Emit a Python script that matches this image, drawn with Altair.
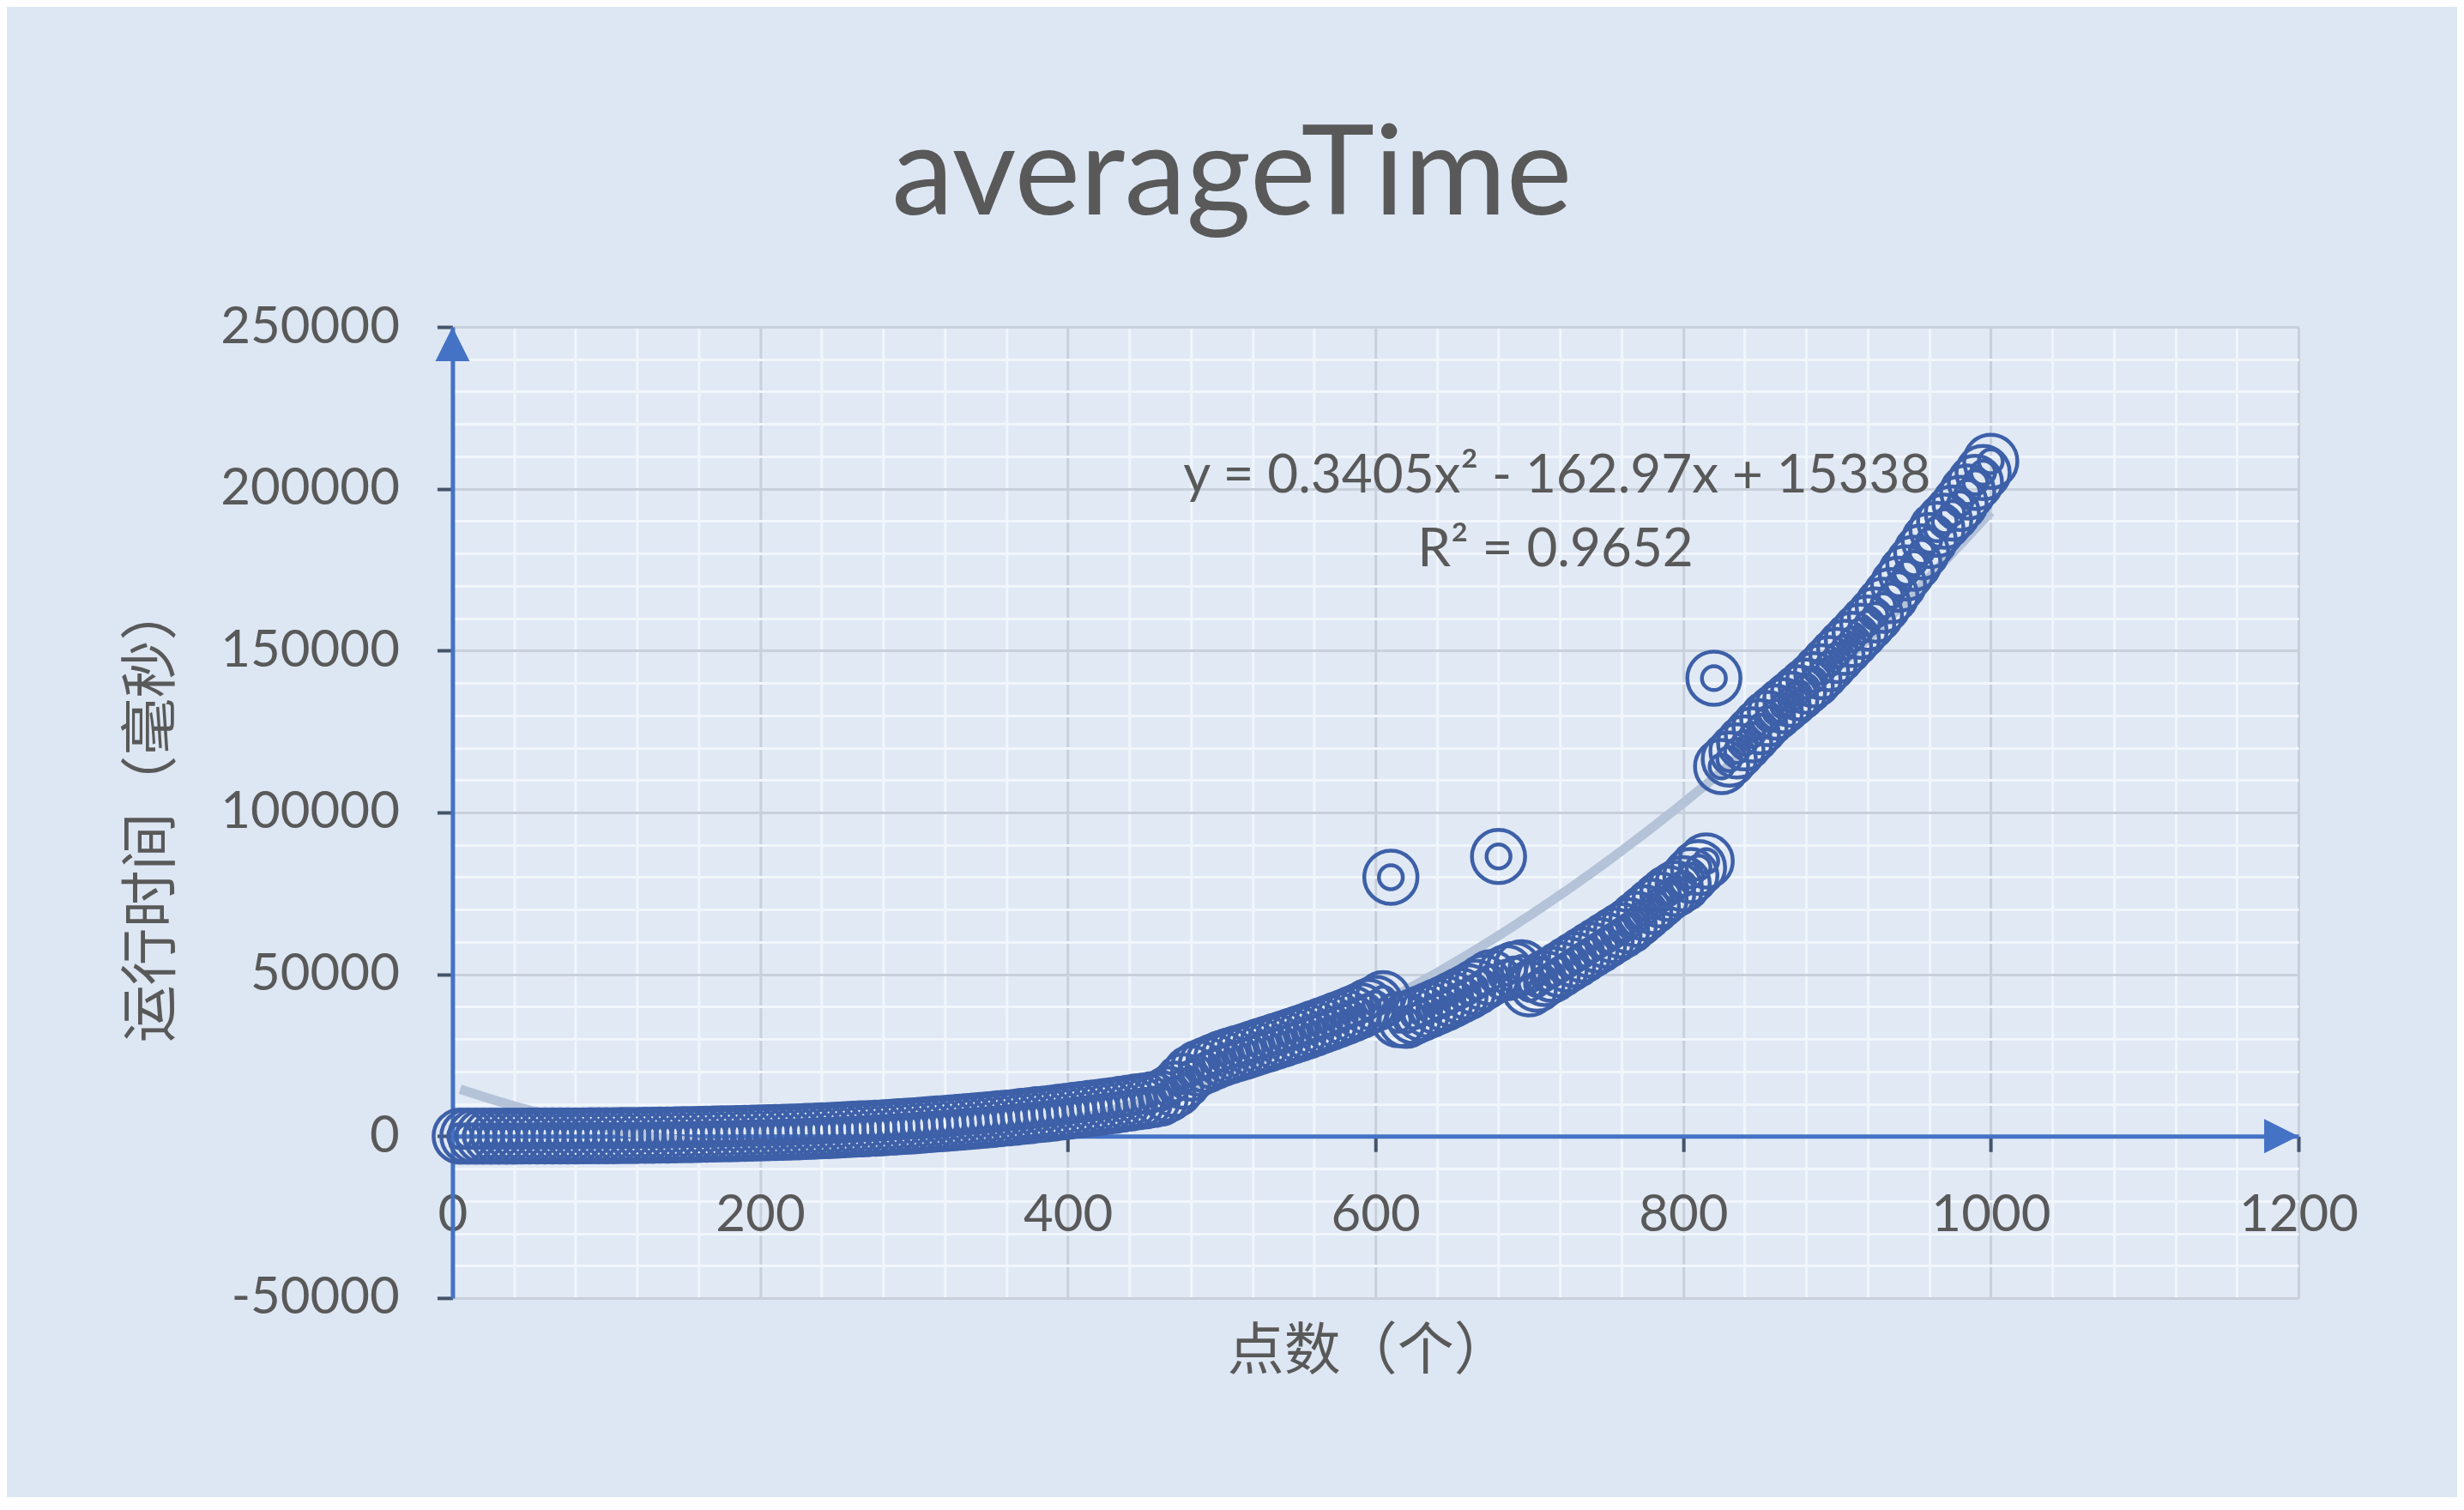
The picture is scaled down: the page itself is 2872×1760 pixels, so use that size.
import altair as alt
import pandas as pd

# ---------------- data ----------------
TITLE = "averageTime"
X_TITLE = "点数（个）"
Y_TITLE = "运行时间（毫秒）"

X_DOMAIN = [0, 1200]
Y_DOMAIN = [-50000, 250000]

# number of points (x) and average running time in ms (y)
N_VALUES = list(range(5, 1001, 5))
TIME_VALUES = [
    # 5 .. 100
    5, 8, 10, 12, 15, 20, 25, 30, 35, 40, 50, 55, 60, 70, 80, 90, 100, 110, 120, 140,
    # 105 .. 200
    160, 180, 200, 230, 260, 290, 320, 360, 400, 440, 490, 540, 590, 640, 700, 760, 820, 890, 950, 1000,
    # 205 .. 300
    1050, 1100, 1180, 1260, 1350, 1450, 1550, 1650, 1750, 1850, 1980, 2100, 2230, 2350, 2480, 2600, 2750, 2900, 3050, 3200,
    # 305 .. 400
    3400, 3550, 3750, 3900, 4100, 4300, 4500, 4700, 4900, 5100, 5350, 5600, 5800, 6100, 6300, 6600, 6800, 7100, 7400, 7700,
    # 405 .. 460
    8000, 8300, 8600, 8900, 9200, 9500, 9900, 10200, 10600, 10900, 11300, 11700,
    # 465 .. 605
    13000, 14500, 17000, 19500, 21000, 22000, 23000, 24000, 24800, 25500, 26200, 27000, 27800, 28500, 29300,
    30000, 30800, 31600, 32400, 33300, 34100, 35000, 35900, 36800, 37800, 38800, 40000, 41000, 42500,
    # 610 (outlier)
    80000,
    # 615 .. 675
    36000, 35800, 37000, 38000, 39000, 40000, 41000, 42200, 43400, 44600, 46000, 47500, 49000,
    # 680 (outlier)
    86400,
    # 685 .. 695
    50500, 51500, 52000,
    # 700 .. 815
    45500, 47000, 48700, 50000, 51500, 53000, 54500, 56000, 57500, 59000, 60500, 62000,
    63500, 65000, 67000, 69000, 71000, 73000, 75000, 76500, 78000, 80500, 83000, 85000,
    # 820 (outlier)
    141500,
    # 825 .. 1000
    114200, 116500, 119000, 121500, 124000, 126500, 129000, 131000, 133000, 135000, 137000, 139000,
    141000, 143500, 146000, 148500, 151000, 153500, 156000, 158500, 161000, 164000, 167000, 170500,
    174000, 177000, 180500, 184000, 187500, 190000, 192500, 195500, 199000, 202000, 205000, 208500,
]

# polynomial trendline shown on the chart: c0 + c1*x + c2*x^2
TREND_COEF = [15338, -162.97, 0.3405]
EQ_TEXT = "y = 0.3405x² - 162.97x + 15338"
R2_TEXT = "R² = 0.9652"

# ---------------- layout / style ----------------
W, H = 2152, 1132
BG = "#dde7f3"
TEXT_C = "#595959"
AXIS_BLUE = "#4472c4"
MARK_BLUE = "#3d60a8"
NUM_FONT = "Lato"
CJK_FONT = "Noto Sans CJK SC"

df = pd.DataFrame({"n": N_VALUES, "t": TIME_VALUES})

x_scale = alt.Scale(domain=X_DOMAIN, nice=False, zero=False)
y_scale = alt.Scale(domain=Y_DOMAIN, nice=False, zero=False)

x_major_test = "datum.value % 200 === 0"
y_major_test = "datum.value % 50000 === 0"

x_axis = alt.Axis(
    orient="bottom",
    values=list(range(X_DOMAIN[0], X_DOMAIN[1] + 1, 40)),
    labelExpr=f"{x_major_test} ? toString(datum.value) : ''",
    labelFont=NUM_FONT, labelFontSize=60, labelColor=TEXT_C, labelPadding=45,
    labelFlush=False, labelOverlap=False, labelLimit=0,
    domainColor=AXIS_BLUE, domainWidth=5,
    tickColor="#44546a", tickWidth=4, tickSize=18,
    tickOpacity={"condition": {"test": x_major_test, "value": 1}, "value": 0},
    grid=True,
    gridColor={"condition": {"test": x_major_test, "value": "#c8d0db"}, "value": "#f1f6fc"},
    gridWidth=3, gridOpacity=1,
    offset=-H / 6,
    title=X_TITLE, titleFont=CJK_FONT, titleFontSize=66, titleColor=TEXT_C,
    titleFontWeight="normal", titleX=1068, titleY=251,
    titleBaseline="middle", titleAlign="center", titleLimit=0,
)

y_axis = alt.Axis(
    orient="left",
    values=list(range(Y_DOMAIN[0], Y_DOMAIN[1] + 1, 10000)),
    labelExpr=f"{y_major_test} ? toString(datum.value) : ''",
    labelFont=NUM_FONT, labelFontSize=60, labelColor=TEXT_C, labelPadding=44,
    labelFlush=False, labelOverlap=False, labelLimit=0,
    domainColor=AXIS_BLUE, domainWidth=5,
    tickColor="#44546a", tickWidth=4, tickSize=18,
    tickOpacity={"condition": {"test": y_major_test, "value": 1}, "value": 0},
    grid=True,
    gridColor={"condition": {"test": y_major_test, "value": "#c8d0db"}, "value": "#f1f6fc"},
    gridWidth=3, gridOpacity=1,
    title=Y_TITLE, titleFont=CJK_FONT, titleFontSize=67, titleColor=TEXT_C,
    titleFontWeight="normal", titleX=-349.5, titleY=566,
    titleBaseline="middle", titleAlign="center", titleAngle=270, titleLimit=0,
)


def xf(field=None, datum=None):
    if datum is not None:
        return alt.X(datum=datum, type="quantitative", scale=x_scale, axis=x_axis)
    return alt.X(field, type="quantitative", scale=x_scale, axis=x_axis)


def yf(field=None, datum=None):
    if datum is not None:
        return alt.Y(datum=datum, type="quantitative", scale=y_scale, axis=y_axis)
    return alt.Y(field, type="quantitative", scale=y_scale, axis=y_axis)


# trendline computed from the coefficients displayed on the chart
trend = (
    alt.Chart(alt.sequence(N_VALUES[0], N_VALUES[-1] + 1, 5, as_="n"))
    .transform_calculate(
        t=f"{TREND_COEF[0]} + ({TREND_COEF[1]})*datum.n + ({TREND_COEF[2]})*datum.n*datum.n"
    )
    .mark_line(color="#b5c3d9", strokeWidth=11)
    .encode(x=xf("n"), y=yf("t"))
)

RING = ("M1,0A1,1,0,1,1,-1,0A1,1,0,1,1,1,0Z"
        "M0.45,0A0.45,0.45,0,1,1,-0.45,0A0.45,0.45,0,1,1,0.45,0Z")

points = (
    alt.Chart(df)
    .mark_point(shape=RING, size=3844, filled=False,
                stroke=MARK_BLUE, strokeWidth=4.5, opacity=1)
    .encode(x=xf("n"), y=yf("t"))
)

one = pd.DataFrame({"k": [0]})

arrow_y = (
    alt.Chart(one)
    .mark_point(shape="M0,0L-1,2L1,2Z", size=1600, filled=True,
                color=AXIS_BLUE, opacity=1)
    .encode(x=xf(datum=X_DOMAIN[0]), y=yf(datum=Y_DOMAIN[1]))
)
arrow_x = (
    alt.Chart(one)
    .mark_point(shape="M0,0L-2,-1L-2,1Z", size=1600, filled=True,
                color=AXIS_BLUE, opacity=1)
    .encode(x=xf(datum=X_DOMAIN[1]), y=yf(datum=0))
)

eq1 = (
    alt.Chart(one)
    .mark_text(text=EQ_TEXT, font=NUM_FONT, fontSize=62, color=TEXT_C,
               align="center", baseline="middle")
    .encode(x=xf(datum=718), y=yf(datum=203800))
)
eq2 = (
    alt.Chart(one)
    .mark_text(text=R2_TEXT, font=NUM_FONT, fontSize=62, color=TEXT_C,
               align="center", baseline="middle")
    .encode(x=xf(datum=717), y=yf(datum=181000))
)

chart = (
    alt.layer(trend, points, arrow_y, arrow_x, eq1, eq2)
    .properties(
        width=W, height=H,
        title=alt.TitleParams(
            TITLE, font=NUM_FONT, fontSize=145, fontWeight="normal", color=TEXT_C,
            anchor="middle", frame="group", dx=-167.5, dy=180, offset=136,
            baseline="alphabetic",
        ),
        autosize=alt.AutoSizeParams(type="none"),
        padding={"left": 519.5, "top": 373, "right": 185, "bottom": 232},
        background=BG,
    )
    .configure_view(stroke="#ccd4df", strokeWidth=2, fill="#e1e9f5")
)

chart.save("out.html", embed_options={"renderer": "svg", "actions": False})
